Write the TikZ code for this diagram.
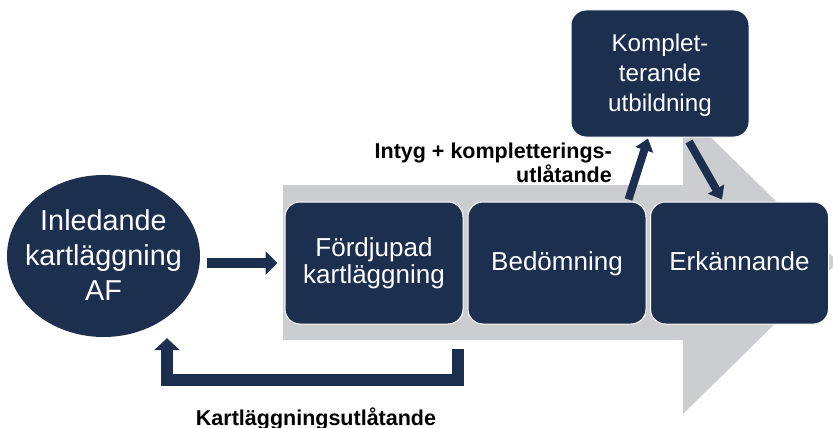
\documentclass[tikz,border=0pt]{standalone}
\usepackage{fontspec}
\setmainfont{Liberation Sans}
\usetikzlibrary{arrows.meta,shapes.geometric,calc}
\definecolor{navy}{HTML}{1C2F4F}
\definecolor{arrowgray}{HTML}{CCCDD0}
\begin{document}
\begin{tikzpicture}[x=1pt,y=-1pt,
  stagebox/.style={fill=navy,draw=white,line width=1pt,rounded corners=15pt,
    text=white,align=center,inner sep=0pt,minimum width=178pt,minimum height=122pt,
    font=\fontsize{26}{27}\selectfont,text depth=0pt},
  fatarrow/.style={draw=navy,line width=10pt,-{Triangle[width=23pt,length=12pt]}},
  retarrow/.style={draw=navy,line width=12pt,line join=miter,-{Triangle[width=25pt,length=12pt]}},
  slimarrow/.style={draw=navy,line width=8pt,-{Triangle[width=18pt,length=12pt]}},
  lbl/.style={font=\fontsize{21.5}{24}\selectfont\bfseries,inner sep=0pt}
]
\useasboundingbox (0,0) rectangle (833,428);
% big grey process arrow
\fill[arrowgray] (283,185) -- (683,185) -- (683,110) -- (838,262) -- (683,414) -- (683,340) -- (283,340) -- cycle;

\node[ellipse,fill=navy,inner sep=0pt,minimum width=193pt,minimum height=162pt] (ell) at (103.5,256) {};
\node[text=white,align=center,inner sep=0pt,text depth=0pt,text height=88pt,
  font=\fontsize{28.8}{35}\selectfont] (elltext) at (ell.center) {Inledande\\kartläggning\\AF};

\node[stagebox,text height=40pt] (fd)  at (374,263)   {Fördjupad\\kartläggning};
\node[stagebox,text height=15pt] (bed) at (557,263)   {Bedömning};
\node[stagebox,text height=15pt] (erk) at (739.5,263) {Erkännande};
\node[stagebox,minimum height=127pt,text height=76.4pt,font=\fontsize{24.2}{30}\selectfont] (kom) at (660,73.5) {Komplet-\\terande\\utbildning};

% connectors
\draw[fatarrow,shorten <=7pt,shorten >=7pt] (ell.east |- fd.west) -- (fd.west);
\coordinate (retstart) at ($(fd.south east)+(-6,24)$);
\coordinate (retend) at ($(ell.south)+(63.5,1)$);
\draw[retarrow] (retstart) -- ++(0,31.5) -| (retend);
\draw[slimarrow] ($(bed.north east)+(-18,-2)$) -- ($(kom.south)+(-12,1)$);
\draw[slimarrow] ($(kom.south)+(29,4)$) -- ($(erk.north)+(-17.5,-2)$);

% labels
\node[lbl,anchor=base] (lblmap) at (316,425) {Kartläggningsutlåtande};
\node[lbl,align=right,anchor=base east] (lblcert) at (612,182) {Intyg + kompletterings-\\utlåtande};
\end{tikzpicture}
\end{document}
